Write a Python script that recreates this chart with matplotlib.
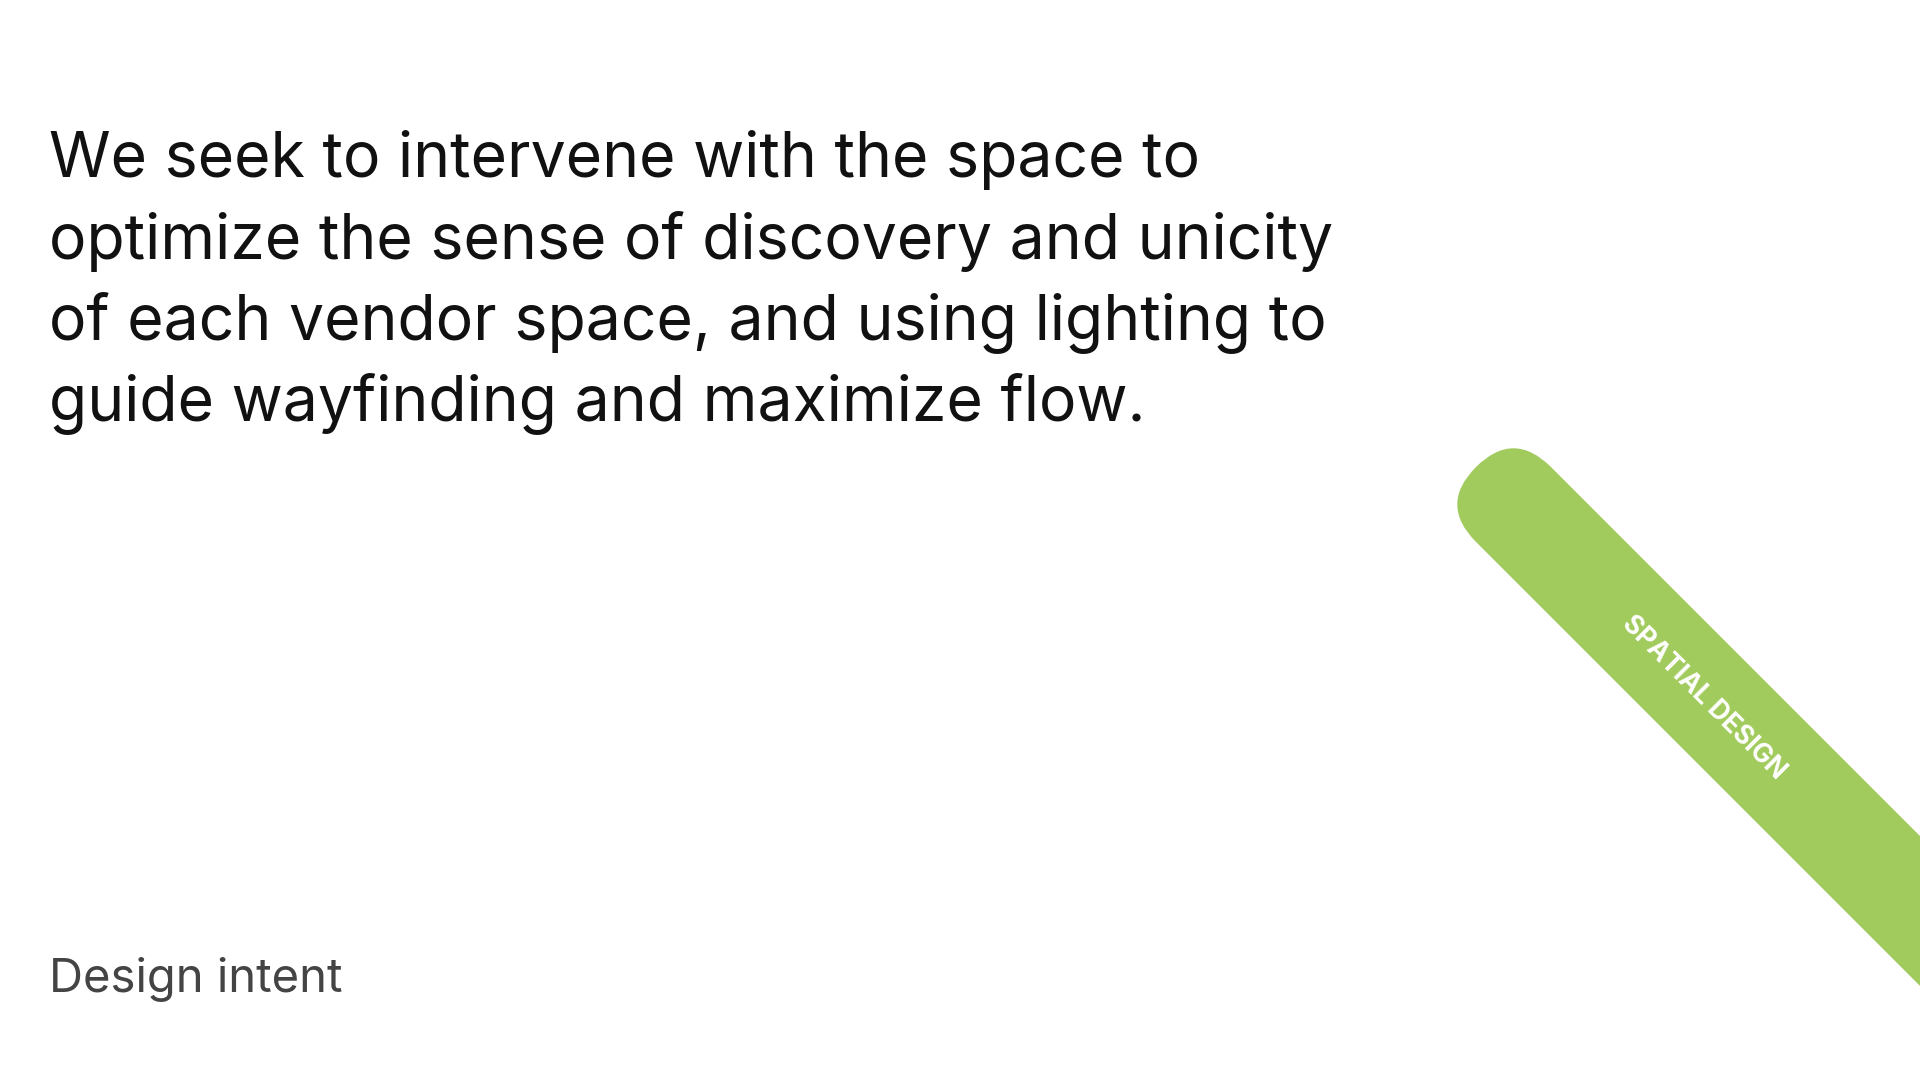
import matplotlib
matplotlib.use("Agg")
import matplotlib.pyplot as plt
from matplotlib.patches import FancyBboxPatch
from matplotlib.transforms import Affine2D

HEADLINE = [
    "We seek to intervene with the space to",
    "optimize the sense of discovery and unicity",
    "of each vendor space, and using lighting to",
    "guide wayfinding and maximize flow.",
]
FOOTER = "Design intent"
TAG = "SPATIAL DESIGN"
GREEN = "#A2CB5E"

fig = plt.figure(figsize=(19.2, 10.8), dpi=100)
ax = fig.add_axes([0, 0, 1, 1])
ax.set_xlim(0, 1920)
ax.set_ylim(1080, 0)
ax.axis("off")

for i, line in enumerate(HEADLINE):
    ax.text(49, 160 + i * 81, line, fontsize=45, family="Inter",
            color="#111111", va="center", ha="left")

ax.text(49, 980, FOOTER, fontsize=34, family="Inter", color="#444444",
        va="center", ha="left")

# зелена стрічка під кутом 45°
band = FancyBboxPatch((0, -53), 900, 106,
                      boxstyle="round,pad=0,rounding_size=53",
                      facecolor=GREEN, edgecolor="none")
band.set_transform(Affine2D().rotate_deg(45).translate(1476, 467) + ax.transData)
ax.add_patch(band)

ax.text(1704, 698, TAG, fontsize=19, family="Inter", weight="bold",
        color="white", rotation=-45, ha="center", va="center",
        rotation_mode="anchor")

fig.savefig("out.png", dpi=100)
